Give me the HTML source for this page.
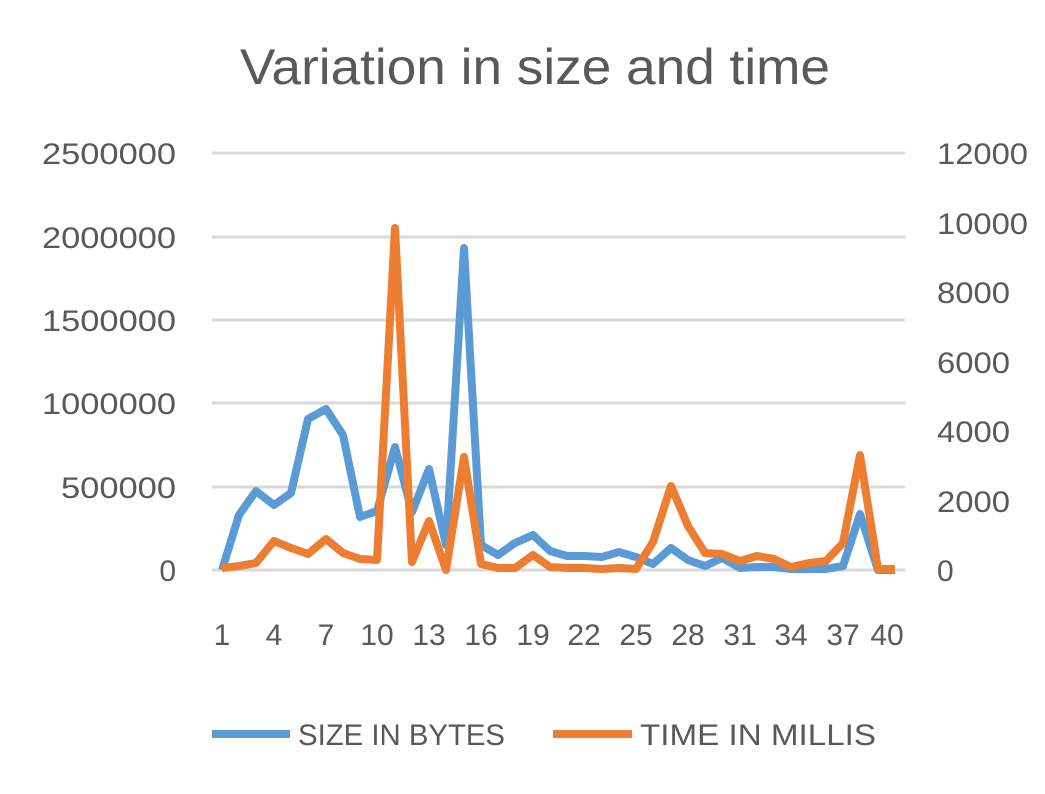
<!DOCTYPE html>
<html><head><style>body{margin:0;background:#fff}</style></head><body>
<svg width="1045" height="789" xmlns="http://www.w3.org/2000/svg" font-family="Liberation Sans, sans-serif" fill="#595959">
<text x="240" y="84" font-size="50" textLength="590" lengthAdjust="spacingAndGlyphs">Variation in size and time</text>
<g stroke="#d9d9d9" stroke-width="3">
<line x1="212" x2="905" y1="153" y2="153"/><line x1="212" x2="905" y1="237" y2="237"/><line x1="212" x2="905" y1="320" y2="320"/><line x1="212" x2="905" y1="403" y2="403"/><line x1="212" x2="905" y1="487" y2="487"/><line x1="212" x2="905" y1="570" y2="570"/></g>
<g font-size="30" text-anchor="end">
<text x="176" y="164" textLength="134" lengthAdjust="spacingAndGlyphs">2500000</text><text x="176" y="248" textLength="134" lengthAdjust="spacingAndGlyphs">2000000</text><text x="176" y="331" textLength="134" lengthAdjust="spacingAndGlyphs">1500000</text><text x="176" y="414" textLength="134" lengthAdjust="spacingAndGlyphs">1000000</text><text x="176" y="498" textLength="115" lengthAdjust="spacingAndGlyphs">500000</text><text x="176" y="581">0</text></g>
<g font-size="30" text-anchor="start">
<text x="937" y="164" textLength="91" lengthAdjust="spacingAndGlyphs">12000</text><text x="937" y="234" textLength="91" lengthAdjust="spacingAndGlyphs">10000</text><text x="937" y="303" textLength="73" lengthAdjust="spacingAndGlyphs">8000</text><text x="937" y="373" textLength="73" lengthAdjust="spacingAndGlyphs">6000</text><text x="937" y="442" textLength="73" lengthAdjust="spacingAndGlyphs">4000</text><text x="937" y="512" textLength="73" lengthAdjust="spacingAndGlyphs">2000</text><text x="937" y="581">0</text></g>
<g font-size="30" text-anchor="middle">
<text x="222" y="645">1</text><text x="274" y="645">4</text><text x="326" y="645">7</text><text x="377" y="645">10</text><text x="429" y="645">13</text><text x="481" y="645">16</text><text x="533" y="645">19</text><text x="584" y="645">22</text><text x="636" y="645">25</text><text x="688" y="645">28</text><text x="740" y="645">31</text><text x="791" y="645">34</text><text x="843" y="645">37</text><text x="887" y="645">40</text></g>
<polyline fill="none" stroke="#5B9BD5" stroke-width="8" stroke-linejoin="round" points="222,570 239,515 256,491 274,505 291,493 308,419 326,409 343,435 360,517 377,511 395,447 412,512 429,469 446,545 464,248 481,545 498,555 515,543 533,535 550,551 567,556 584,556 602,557 619,552 636,557 653,564 671,548 688,560 705,566 722,558 740,568 757,567 774,567 791,569 809,569 826,569 843,566 860,514 878,570 895,570"/>
<polyline fill="none" stroke="#ED7D31" stroke-width="8" stroke-linejoin="round" points="222,568 239,566 256,563 274,541 291,548 308,554 326,539 343,553 360,559 377,560 395,228 412,562 429,521 446,570 464,457 481,564 498,568 515,568 533,555 550,567 567,568 584,568 602,569 619,568 636,569 653,542 671,486 688,526 705,553 722,554 740,561 757,556 774,559 791,567 809,563 826,561 843,543 860,455 878,569 895,569"/>
<line x1="212" x2="290" y1="734" y2="734" stroke="#5B9BD5" stroke-width="8"/>
<text x="298" y="745" font-size="30" textLength="207" lengthAdjust="spacingAndGlyphs">SIZE IN BYTES</text>
<line x1="553" x2="632" y1="734" y2="734" stroke="#ED7D31" stroke-width="8"/>
<text x="640" y="745" font-size="30" textLength="236" lengthAdjust="spacingAndGlyphs">TIME IN MILLIS</text>
</svg>
</body></html>
